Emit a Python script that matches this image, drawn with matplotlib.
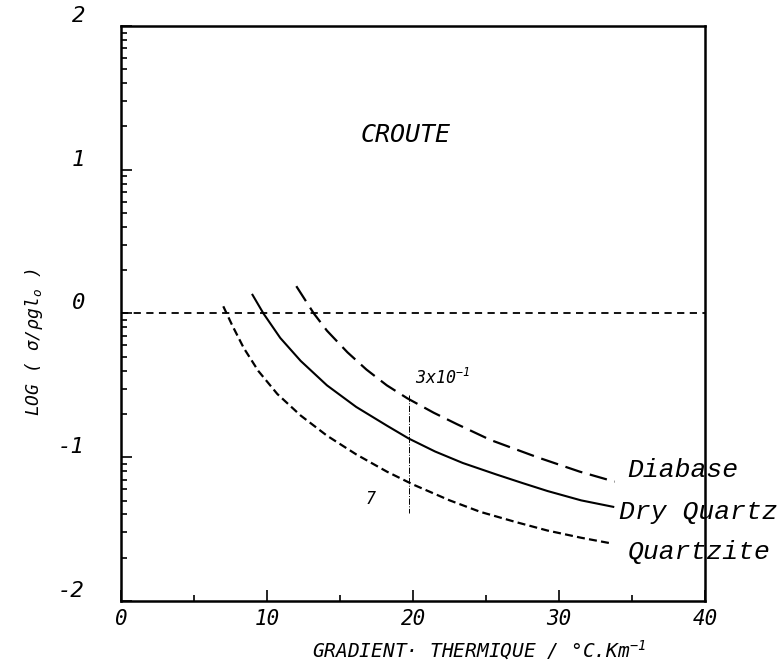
import numpy as np
import matplotlib
matplotlib.use("Agg")
import matplotlib.pyplot as plt
from matplotlib.ticker import FixedLocator, FixedFormatter

plt.rcParams['font.family'] = ['DejaVu Sans Mono', 'DejaVu Sans']
plt.rcParams['font.style'] = 'italic'
plt.rcParams['mathtext.fontset'] = 'custom'
plt.rcParams['mathtext.rm'] = 'DejaVu Sans Mono:italic'
plt.rcParams['mathtext.it'] = 'DejaVu Sans Mono:italic'

# curves (x: gradient degC/km, y: log stress)
diabase_x = [12.0, 13.2, 14.1, 15.5, 16.8, 18.2, 19.6, 21.4, 23.0, 25.3, 28.5, 31.4, 33.8]
diabase_y = [0.19, 0.0, -0.12, -0.27, -0.39, -0.50, -0.59, -0.69, -0.77, -0.88, -1.00, -1.10, -1.17]

dry_x = [9.0, 9.75, 10.9, 12.3, 14.1, 16.1, 18.2, 19.7, 21.5, 23.4, 25.7, 27.5, 29.2, 31.5, 33.7]
dry_y = [0.13, 0.0, -0.17, -0.33, -0.50, -0.65, -0.78, -0.87, -0.96, -1.04, -1.12, -1.18, -1.235, -1.30, -1.345]

qtz_x = [7.0, 7.6, 8.4, 9.4, 10.7, 12.3, 14.1, 16.1, 18.2, 20.0, 22.5, 24.6, 27.0, 29.2, 31.5, 33.6]
qtz_y = [0.05, -0.08, -0.24, -0.40, -0.56, -0.71, -0.85, -0.98, -1.10, -1.19, -1.30, -1.38, -1.45, -1.51, -1.56, -1.60]

x_major = [0, 10, 20, 30, 40]
x_minor = [5, 15, 25, 35]
y_major = [-2, -1, 0, 1, 2]
y_labels = ['-2', '-1', '0', '1', '2']

fig = plt.figure(figsize=(7.81, 6.66), dpi=100)
ax = fig.add_axes([0.155, 0.0976, 0.748, 0.8634])

ax.axhline(0, color='k', lw=1.3, ls=(0, (4, 3)))
ax.plot(diabase_x, diabase_y, color='k', lw=1.6, ls=(0, (8, 3.5)))
ax.plot(dry_x, dry_y, color='k', lw=1.5, ls='-')
ax.plot(qtz_x, qtz_y, color='k', lw=1.6, ls=(0, (3.6, 1.9)))

# hand annotation
ax.plot([19.7, 19.7], [-0.57, -1.39], color='k', lw=0.7, ls='-.')
ax.text(20.1, -0.52, r'3x10$^{-1}$', fontsize=12, ha='left', va='bottom')
ax.text(17.1, -1.29, '7', fontsize=12, ha='center', va='center')

ax.text(19.45, 1.24, 'CROUTE', fontsize=18, ha='center', va='center')

lab = dict(fontsize=19, family='Liberation Mono', fontstyle='italic', va='center', ha='left', clip_on=False)
ax.text(34.66, -1.09, 'Diabase', **lab)
ax.text(34.1, -1.38, 'Dry Quartz', **lab)
ax.text(34.66, -1.66, 'Quartzite', **lab)

ax.set_xlim(0, 40)
ax.set_ylim(-2, 2)

ax.xaxis.set_major_locator(FixedLocator(x_major))
ax.xaxis.set_minor_locator(FixedLocator(x_minor))
ax.yaxis.set_major_locator(FixedLocator(y_major))
ax.yaxis.set_major_formatter(FixedFormatter(y_labels))
y_minor = [d + np.log10(k) for d in (-2, -1, 0, 1) for k in range(2, 10)]
ax.yaxis.set_minor_locator(FixedLocator(y_minor))

ax.tick_params(which='both', direction='in', width=1.2)
ax.tick_params(which='major', length=8)
ax.tick_params(which='minor', length=4)
ax.tick_params(axis='y', pad=26, labelsize=16)
ax.tick_params(axis='x', pad=6, labelsize=15)
for t in ax.get_yticklabels():
    t.set_va('bottom')

for s in ax.spines.values():
    s.set_linewidth(1.8)

ax.set_xlabel('GRADIENT· THERMIQUE / °C.Km$^{-1}$', fontsize=14)
ax.xaxis.set_label_coords(0.613, -0.085)
ax.xaxis.label.set_va('center')
ax.set_ylabel('LOG ( σ/ρgl$_o$ )', fontsize=13)
ax.yaxis.set_label_coords(-0.13, 0.45)

fig.savefig('out.png', dpi=100)
